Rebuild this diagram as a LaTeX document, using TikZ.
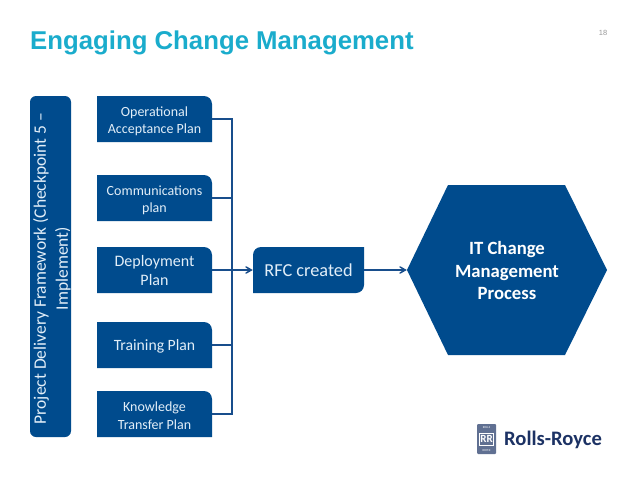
\documentclass[tikz,border=0pt]{standalone}
\usepackage{fontspec}
\setmainfont{Carlito}
\newfontfamily\titlefont{Liberation Sans}
\usetikzlibrary{arrows,%
                shapes,positioning}
\definecolor{rrblue}{RGB}{0,75,141}
\definecolor{rrline}{RGB}{24,78,140}
\definecolor{rrtitle}{RGB}{26,172,204}
\definecolor{rrtext}{RGB}{226,238,248}
\definecolor{rrlogo}{RGB}{28,50,100}
\tikzset{
  planbox/.style={minimum width=115pt,minimum height=46pt,inner sep=0pt},
  plantext/.style={text=rrtext,align=center,inner sep=0pt},
  link/.style={draw=rrline,line width=1.5pt},
}
% box with the top right corner rounded
\newcommand{\PlanBox}[6]{
\fill[rrblue] (97,#2-23) -- (202,#2-23) [rounded corners=8pt] -- (212,#2-23) [sharp corners] -- (212,#2+23) -- (97,#2+23) -- cycle;
\node[planbox] (#1) at (154.5,#2) {};
\node[plantext,font=\fontsize{#3}{#4}\selectfont] (#1text) at (154.5,#2+#5) {#6};
}
\begin{document}
\begin{tikzpicture}[x=1pt,y=-1pt,>=angle 60]
\useasboundingbox (0,0) rectangle (638,479);
\fill[white] (0,0) rectangle (638,479);
\node[anchor=west,inner sep=0pt,text=rrtitle,font=\titlefont\bfseries\fontsize{25.75}{30}\selectfont] (title) at (30,42.5) {Engaging Change Management};
\node[text=gray!80,font=\titlefont\fontsize{7.5}{9}\selectfont,inner sep=0pt] (pagenum) at (603,33) {18};
\node[fill=rrblue,rounded corners=6pt,minimum width=341pt,minimum height=41pt,inner sep=0pt,rotate=90] (framework) at (50.5,266.5) {};
\node[text=rrtext,align=center,inner sep=0pt,rotate=90,font=\fontsize{17.5}{22}\selectfont] (frameworktext) at (52,268.5)
  {Project Delivery Framework (Checkpoint 5 --\\Implement)};
\PlanBox{acceptance}{119}{14}{17.5}{2.5}{Operational\\Acceptance Plan}
\PlanBox{comms}{198}{14}{17.5}{2.5}{Communications\\plan}
\PlanBox{deploy}{270}{16}{19}{1}{Deployment\\Plan}
\PlanBox{training}{345}{15.7}{19}{1.5}{Training Plan}
\PlanBox{knowledge}{414}{14}{17.5}{1.5}{Knowledge\\Transfer Plan}
% box with two opposite corners rounded
\fill[rrblue] (253,293) [rounded corners=8pt] -- (253,247) [sharp corners] -- (364,247) [rounded corners=8pt] -- (364,293) [sharp corners] -- cycle;
\node[text=rrtext,font=\fontsize{18.3}{22}\selectfont,minimum width=111pt,minimum height=46pt,inner sep=0pt] (rfc) at (308.5,270) {RFC created};
\fill[rrblue] (407,270) -- (448,185) -- (565,185) -- (607,270) -- (565,355) -- (448,355) -- cycle;
\node[text=white,align=center,font=\bfseries\fontsize{18.7}{22.5}\selectfont,minimum width=200pt,minimum height=170pt,inner sep=0pt] (process) at (507,271) {IT Change\\Management\\Process};
\coordinate (bus) at (232,270);
\draw[link] (acceptance.east) -| (bus);
\draw[link] (comms.east) -| (bus);
\draw[link] (training.east) -| (bus);
\draw[link] (knowledge.east) -| (bus);
\draw[link,->] (deploy.east) -- (rfc.west);
\draw[link,->] (rfc.east) -- (process.west |- rfc.east);
% logo
\node[fill=rrlogo!70!white,minimum width=19pt,minimum height=30pt,inner sep=0pt,rounded corners=1pt] (badge) at (486.5,439) {};
\node[draw=white,line width=0.5pt,text=white,font=\bfseries\fontsize{11}{11}\selectfont,inner xsep=1pt,inner ysep=2.5pt] (badgerr) at (badge) {RR};
\node[text=white,font=\fontsize{3}{3}\selectfont,inner sep=0pt] (badgetop) at (486.5,427.5) {ROLLS};
\node[text=white,font=\fontsize{3}{3}\selectfont,inner sep=0pt] (badgelow) at (486.5,450.5) {ROYCE};
\node[anchor=west,inner sep=0pt,text=rrlogo,font=\bfseries\fontsize{20.6}{24}\selectfont] (brand) at (504,440) {Rolls-Royce};
\end{tikzpicture}
\end{document}
